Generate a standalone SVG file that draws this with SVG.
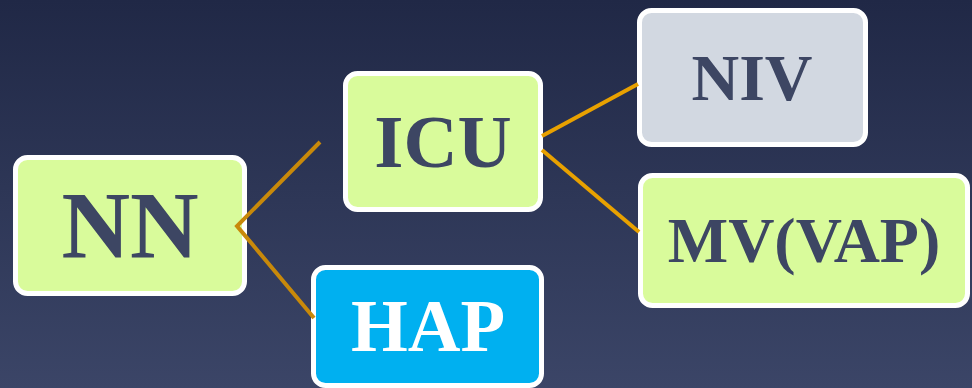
<svg xmlns="http://www.w3.org/2000/svg" width="972" height="388" viewBox="0 0 972 388">
<defs>
<linearGradient id="bg" x1="0" y1="0" x2="0" y2="1">
<stop offset="0" stop-color="#202846"/>
<stop offset="1" stop-color="#3b4567"/>
</linearGradient>
<style>
.box{stroke:#ffffff;stroke-width:5}
.green{fill:#d9fb9b}
.grey{fill:#d2d8e1}
.blue{fill:#00b0f0}
.t{font-family:"Liberation Serif","Times New Roman",serif;font-weight:bold;text-anchor:middle;fill:#3d4663}
.w{fill:#ffffff}
.c1{stroke:#c8890a;stroke-width:4;fill:none}
.c2{stroke:#e8a100;stroke-width:4;fill:none}
</style>
</defs>
<rect x="0" y="0" width="972" height="388" fill="url(#bg)"/>
<g id="node-nn">
<rect class="box green" x="15.5" y="157.5" width="229" height="136" rx="12"/>
<text class="t" x="130" y="258" font-size="95">NN</text>
</g>
<g id="node-icu">
<rect class="box green" x="345.5" y="73.5" width="195" height="136" rx="12"/>
<text class="t" x="443" y="167" font-size="75">ICU</text>
</g>
<g id="node-hap">
<rect class="box blue" x="313.5" y="267.5" width="228" height="118" rx="12"/>
<text class="t w" x="428" y="351" font-size="73">HAP</text>
</g>
<g id="node-niv">
<rect class="box grey" x="639.5" y="10.5" width="226" height="134" rx="12"/>
<text class="t" x="752" y="100" font-size="66">NIV</text>
</g>
<g id="node-mv">
<rect class="box green" x="640.5" y="175.5" width="327" height="130" rx="12"/>
<text class="t" x="804" y="262" font-size="64">MV(VAP)</text>
</g>
<g id="connectors">
<polyline class="c1" points="320,142 237,226 314,318"/>
<line class="c2" x1="542" y1="136" x2="638" y2="84"/>
<line class="c2" x1="542" y1="150" x2="639" y2="232"/>
</g>
</svg>
